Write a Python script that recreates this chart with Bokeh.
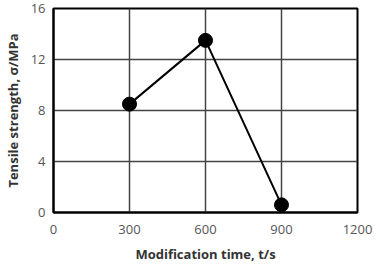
from bokeh.plotting import figure
from bokeh.embed import file_html
from bokeh.resources import INLINE
from bokeh.models import FixedTicker, Range1d

time_s = [300, 600, 900]
strength = [8.5, 13.5, 0.6]
x_ticks = [0, 300, 600, 900, 1200]
y_ticks = [0, 4, 8, 12, 16]

p = figure(width=380, height=270, output_backend="svg", toolbar_location=None,
           x_range=Range1d(0, 1200), y_range=Range1d(0, 16),
           min_border_left=53, min_border_right=23, min_border_top=8, min_border_bottom=58)

font = "Open Sans"
for ax in (p.xaxis, p.yaxis):
    ax.major_tick_in = 0
    ax.major_tick_out = 0
    ax.minor_tick_in = 0
    ax.minor_tick_out = 0
    ax.axis_line_color = "black"
    ax.axis_line_width = 2
    ax.major_label_text_font = font
    ax.major_label_text_font_size = "13px"
    ax.major_label_text_color = "#555555"
    ax.axis_label_text_font = font
    ax.axis_label_text_font_size = "13px"
    ax.axis_label_text_font_style = "bold"
    ax.axis_label_text_color = "#333333"

p.xaxis.ticker = FixedTicker(ticks=x_ticks)
p.yaxis.ticker = FixedTicker(ticks=y_ticks)
p.xaxis.major_label_standoff = 12
p.yaxis.major_label_standoff = 8
p.xaxis.axis_label = "Modification time, t/s"
p.yaxis.axis_label = "Tensile strength, σ/MPa"
p.xaxis.axis_label_standoff = 8
p.yaxis.axis_label_standoff = 6

p.xgrid.ticker = FixedTicker(ticks=x_ticks)
p.ygrid.ticker = FixedTicker(ticks=y_ticks)
for g in (p.xgrid, p.ygrid):
    g.grid_line_color = "#444444"
    g.grid_line_width = 1.5

p.outline_line_color = "black"
p.outline_line_width = 2

p.line(time_s, strength, line_color="black", line_width=2)
p.scatter(time_s, strength, size=14, fill_color="black", line_color="black")

open("out.html", "w").write(file_html(p, INLINE))
